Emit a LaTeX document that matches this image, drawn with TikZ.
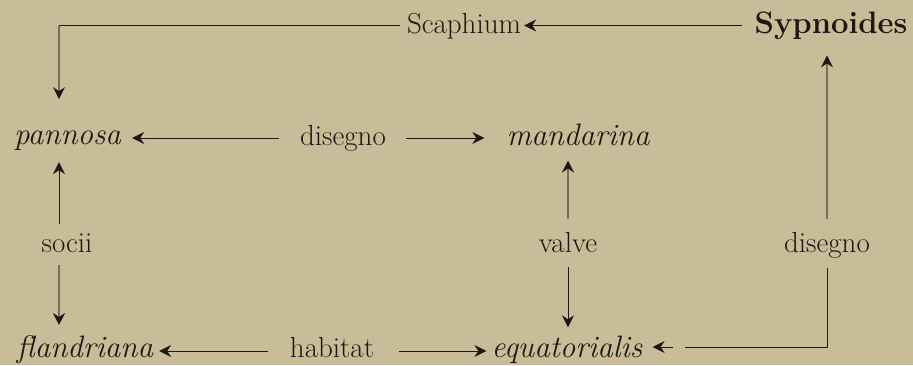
\documentclass[tikz,border=0pt]{standalone}
\usetikzlibrary{arrows.meta}
\definecolor{paper}{RGB}{200,189,152}
\definecolor{ink}{RGB}{30,24,18}
\definecolor{faintink}{RGB}{118,110,90}
\tikzset{
  x=1pt,y=-1pt,
  lbl/.style={inner sep=0pt,anchor=base,text=ink,font=\fontsize{29}{32}\selectfont},
  sp/.style={inner sep=0pt,anchor=base,text=ink,font=\fontsize{31}{34}\selectfont\itshape},
  bigb/.style={inner sep=0pt,anchor=base,text=ink,font=\fontsize{31}{34}\selectfont\bfseries},
  tip/.style={-{Stealth[length=12pt,width=12pt,inset=4pt,color=ink]}},
  con/.style={draw=ink,line width=0.9pt},
  faint/.style={draw=faintink,line width=1.3pt}
}
\begin{document}
\begin{tikzpicture}
\fill[paper] (0,0) rectangle (913,365);
\useasboundingbox (0,0) rectangle (913,365);
% nodes
\node[lbl]  (scaph) at (464,33) {Scaphium};
\node[bigb] (syp)   at (831,33) {Sypnoides};
\node[sp]   (pan)   at (67.5,144) {pannosa};
\node[lbl]  (dis1)  at (343,145) {disegno};
\node[sp]   (man)   at (578,145) {mandarina};
\node[lbl]  (soc)   at (67,252) {socii};
\node[lbl]  (val)   at (568,252) {valve};
\node[lbl]  (dis2)  at (827,252) {disegno};
\node[sp]   (fla)   at (85,357) {flandriana};
\node[lbl]  (hab)   at (332,357) {habitat};
\node[sp]   (equ)   at (567,357) {equatorialis};
% row levels of the horizontal connectors
\coordinate (tl) at (59,25.5);
\coordinate (r2) at (0,138);
\coordinate (r4) at (0,351);
\coordinate (r4b) at (0,347);
\coordinate (gapend) at (685,347);
\coordinate (tipback) at (673,347);
% top row
\draw[con,tip,shorten <=12pt,shorten >=3pt] (syp.west |- tl) -- (scaph.east |- tl);
\draw[con,shorten <=7pt] (scaph.west |- tl) -- (tl);
\draw[faint,tip,shorten >=31pt] (tl) -- (tl |- pan.north);
% Sypnoides column
\draw[faint,tip,shorten <=13pt,shorten >=16pt] (dis2.north) -- (dis2.north |- syp.south);
\draw[con,shorten <=10pt] (dis2.south) -- (dis2.south |- r4b) -- (gapend);
\draw[con,tip,shorten >=10pt] (tipback) -- (equ.east |- r4b);
% second row
\draw[con,tip,shorten <=21pt,shorten >=11pt] (dis1.west |- r2) -- (pan.east |- r2);
\draw[con,tip,shorten <=20pt,shorten >=22pt] (dis1.east |- r2) -- (man.west |- r2);
% valve column
\draw[faint,tip,shorten <=13pt,shorten >=15pt] (val.north) -- (val.north |- man.south);
\draw[con,tip,shorten <=15pt,shorten >=8pt] (val.south) -- (val.south |- equ.north);
% socii column
\draw[con,tip,shorten <=9pt,shorten >=12pt] (soc.north -| tl) -- (pan.south -| tl);
\draw[faint,tip,shorten <=13pt,shorten >=10pt] (soc.south -| tl) -- (fla.north -| tl);
% bottom row
\draw[con,tip,shorten <=22pt,shorten >=6pt] (hab.west |- r4) -- (fla.east |- r4);
\draw[con,tip,shorten <=25pt,shorten >=5pt] (hab.east |- r4) -- (equ.west |- r4);
\end{tikzpicture}
\end{document}
